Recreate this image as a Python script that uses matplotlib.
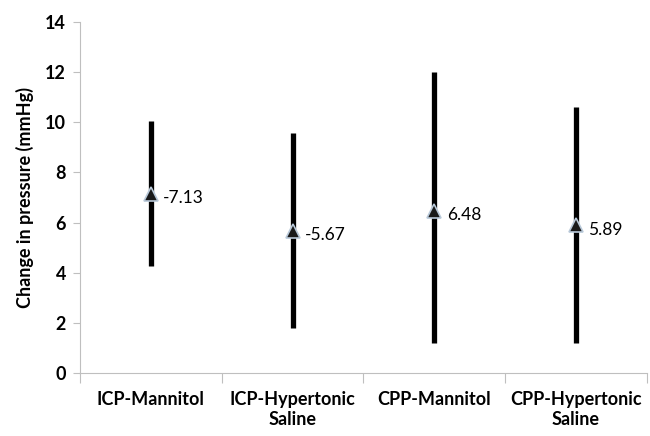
import numpy as np
import matplotlib.pyplot as plt

plt.rcParams['font.family'] = ['Lato', 'DejaVu Sans']

groups = ['ICP-Mannitol', 'ICP-Hypertonic\nSaline', 'CPP-Mannitol', 'CPP-Hypertonic\nSaline']
means = [7.13, 5.67, 6.48, 5.89]
labels = ['-7.13', '-5.67', '6.48', '5.89']
lows = [4.25, 1.8, 1.2, 1.2]
highs = [10.05, 9.57, 12.0, 10.6]

fig = plt.figure(figsize=(6.5, 4.36), dpi=100)
ax = fig.add_axes([0.123, 0.1445, 0.872, 0.805])

x = np.arange(len(groups))
ax.vlines(x, lows, highs, colors='black', linewidth=3.8, zorder=2)
ax.plot(x, means, linestyle='none', marker='^', markersize=10,
        markerfacecolor='#1a1a1a', markeredgecolor='#b8c8d8', markeredgewidth=1.2, zorder=3)
for xi, m, lab in zip(x, means, labels):
    ax.annotate(lab, (xi, m), xytext=(9, -3), textcoords='offset points',
                fontsize=12.5, va='center', ha='left')

ax.set_xlim(-0.5, 3.5)
ax.set_ylim(0, 14)
ax.set_yticks(np.arange(0, 15, 2))
ax.set_xticks(np.arange(-0.5, 4, 1), minor=False)
ax.set_xticklabels([])
ax.set_xticks(x, minor=True)
ax.set_xticklabels(groups, minor=True, fontsize=13, fontweight='bold')
ax.tick_params(axis='x', which='minor', length=0, pad=13)
ax.tick_params(axis='x', which='major', length=7, color='#bfbfbf')
ax.tick_params(axis='y', length=5, color='#bfbfbf', labelsize=13, pad=5)
for t in ax.get_yticklabels():
    t.set_fontweight('bold')

for s in ['top', 'right']:
    ax.spines[s].set_visible(False)
for s in ['left', 'bottom']:
    ax.spines[s].set_color('#bfbfbf')

ax.set_ylabel('Change in pressure (mmHg)', fontsize=13, fontweight='bold', labelpad=8)

fig.savefig('out.png', dpi=100)
